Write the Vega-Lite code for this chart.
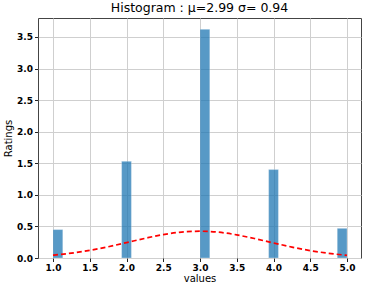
{
  "$schema": "https://vega.github.io/schema/vega-lite/v6.json",
  "width": 323,
  "height": 240,
  "autosize": {"type": "none"},
  "padding": {"left": 38, "top": 18, "right": 4, "bottom": 30},
  "background": "white",
  "title": {"text": "Histogram : μ=2.99 σ= 0.94", "font": "DejaVu Sans", "fontSize": 12.5, "fontWeight": "normal", "color": "black", "offset": 4},
  "config": {
    "view": {"stroke": "#444", "strokeWidth": 1},
    "axis": {
      "labelFont": "DejaVu Sans", "labelFontSize": 9, "labelFontWeight": "bold", "labelColor": "black",
      "labelOverlap": false, "labelFlush": false,
      "titleFont": "DejaVu Sans", "titleFontSize": 10, "titleFontWeight": "normal", "titleColor": "black",
      "gridColor": "#cfcfcf", "gridWidth": 1, "domain": false, "tickColor": "#222", "tickSize": 3.5
    }
  },
  "datasets": {
    "bars": [
      {"start": 1.0, "end": 1.1333, "density": 0.45},
      {"start": 1.9333, "end": 2.0667, "density": 1.53},
      {"start": 3.0, "end": 3.1333, "density": 3.62},
      {"start": 3.9333, "end": 4.0667, "density": 1.40},
      {"start": 4.8667, "end": 5.0, "density": 0.47}
    ],
    "curve": [
      {"x": 1.0, "pdf": 0.045}, {"x": 1.25, "pdf": 0.077}, {"x": 1.5, "pdf": 0.121},
      {"x": 1.75, "pdf": 0.178}, {"x": 2.0, "pdf": 0.244}, {"x": 2.25, "pdf": 0.311},
      {"x": 2.5, "pdf": 0.371}, {"x": 2.75, "pdf": 0.411}, {"x": 3.0, "pdf": 0.424},
      {"x": 3.25, "pdf": 0.409}, {"x": 3.5, "pdf": 0.366}, {"x": 3.75, "pdf": 0.306},
      {"x": 4.0, "pdf": 0.238}, {"x": 4.25, "pdf": 0.173}, {"x": 4.5, "pdf": 0.117},
      {"x": 4.75, "pdf": 0.074}, {"x": 5.0, "pdf": 0.043}
    ]
  },
  "layer": [
    {
      "data": {"name": "bars"},
      "mark": {"type": "rect", "color": "#1f77b4", "opacity": 0.75, "stroke": "white", "strokeWidth": 0.5, "strokeOpacity": 0.6},
      "encoding": {
        "x": {"field": "start", "type": "quantitative",
              "scale": {"domain": [0.796, 5.19], "nice": false, "zero": false},
              "axis": {"values": [1, 1.5, 2, 2.5, 3, 3.5, 4, 4.5, 5], "format": ".1f", "title": "values", "titlePadding": 1, "labelPadding": 2}},
        "x2": {"field": "end"},
        "y": {"field": "density", "type": "quantitative",
              "scale": {"domain": [0, 3.80], "nice": false},
              "axis": {"values": [0, 0.5, 1, 1.5, 2, 2.5, 3, 3.5], "format": ".1f", "title": "Ratings", "titlePadding": 3, "labelPadding": 2}},
        "y2": {"datum": 0}
      }
    },
    {
      "data": {"name": "curve"},
      "mark": {"type": "line", "color": "red", "strokeDash": [5, 3], "strokeWidth": 1.7, "interpolate": "monotone"},
      "encoding": {
        "x": {"field": "x", "type": "quantitative",
              "axis": {"values": [1, 1.5, 2, 2.5, 3, 3.5, 4, 4.5, 5], "format": ".1f", "title": "values", "titlePadding": 1, "labelPadding": 2}},
        "y": {"field": "pdf", "type": "quantitative",
              "axis": {"values": [0, 0.5, 1, 1.5, 2, 2.5, 3, 3.5], "format": ".1f", "title": "Ratings", "titlePadding": 3, "labelPadding": 2}}
      }
    }
  ]
}
